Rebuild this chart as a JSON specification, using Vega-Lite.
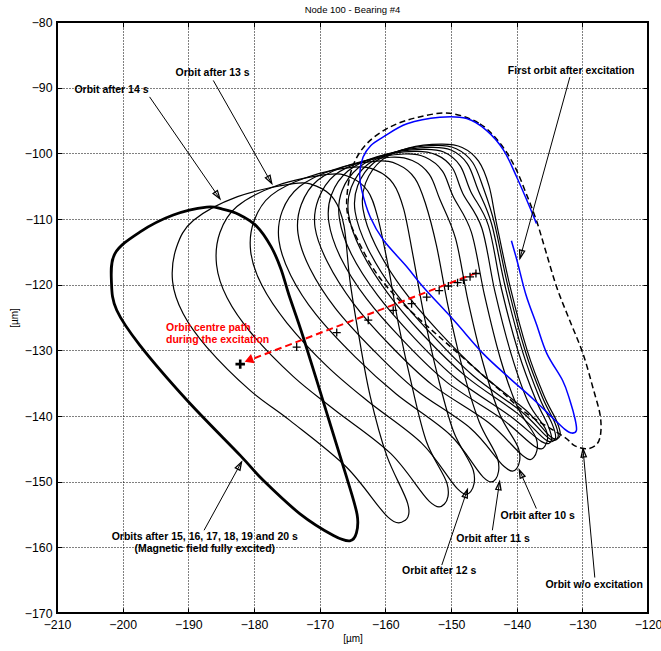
{
  "$schema": "https://vega.github.io/schema/vega-lite/v6.json",
  "width": 591,
  "height": 591,
  "autosize": {"type": "none"},
  "padding": {"left": 57, "top": 22, "right": 13, "bottom": 38},
  "title": {"text": "Node 100 - Bearing #4", "font": "Liberation Sans", "fontSize": 9.5, "fontWeight": "normal", "color": "#000", "anchor": "middle", "baseline": "bottom", "offset": -8},
  "config": {
    "font": "Liberation Sans",
    "view": {"stroke": "#000", "strokeWidth": 2},
    "axis": {"domain": false, "tickColor": "#000", "tickWidth": 1, "tickSize": -5, "labelPadding": 10, "labelFont": "Liberation Sans", "labelFontSize": 12.3, "labelColor": "#000", "labelFlush": false, "labelOverlap": false, "gridColor": "#000", "gridDash": [1, 2], "gridWidth": 1, "gridOpacity": 1, "titleFont": "Liberation Sans", "titleFontSize": 10, "titleFontWeight": "normal", "titleColor": "#000"}
  },
  "datasets": {
    "orbits": [
      {"t":4,"i":1,"x":-151.5,"y":-98.6},{"t":4,"i":2,"x":-148.3,"y":-99.1},{"t":4,"i":3,"x":-145.8,"y":-101.2},{"t":4,"i":4,"x":-144.2,"y":-105.0},{"t":4,"i":5,"x":-143.1,"y":-110.5},{"t":4,"i":6,"x":-141.0,"y":-120.3},{"t":4,"i":7,"x":-138.4,"y":-130.0},{"t":4,"i":8,"x":-135.8,"y":-137.0},{"t":4,"i":9,"x":-133.9,"y":-140.8},{"t":4,"i":10,"x":-133.4,"y":-143.0},{"t":4,"i":11,"x":-134.8,"y":-143.2},{"t":4,"i":12,"x":-138.5,"y":-139.2},{"t":4,"i":13,"x":-145.5,"y":-133.5},{"t":4,"i":14,"x":-152.0,"y":-127.0},{"t":4,"i":15,"x":-157.5,"y":-120.5},{"t":4,"i":16,"x":-161.5,"y":-114.0},{"t":4,"i":17,"x":-163.4,"y":-108.5},{"t":4,"i":18,"x":-163.0,"y":-104.5},{"t":4,"i":19,"x":-160.5,"y":-101.0},{"t":4,"i":20,"x":-156.5,"y":-99.2},
      {"t":5,"i":1,"x":-152.4,"y":-98.8},{"t":5,"i":2,"x":-149.2,"y":-99.3},{"t":5,"i":3,"x":-146.7,"y":-101.4},{"t":5,"i":4,"x":-145.1,"y":-105.2},{"t":5,"i":5,"x":-143.4,"y":-110.6},{"t":5,"i":6,"x":-141.3,"y":-120.4},{"t":5,"i":7,"x":-138.7,"y":-130.1},{"t":5,"i":8,"x":-136.1,"y":-137.1},{"t":5,"i":9,"x":-134.2,"y":-141.0},{"t":5,"i":10,"x":-133.7,"y":-143.2},{"t":5,"i":11,"x":-135.1,"y":-143.4},{"t":5,"i":12,"x":-139.2,"y":-139.4},{"t":5,"i":13,"x":-146.7,"y":-133.8},{"t":5,"i":14,"x":-153.1,"y":-127.4},{"t":5,"i":15,"x":-158.7,"y":-120.9},{"t":5,"i":16,"x":-162.7,"y":-114.4},{"t":5,"i":17,"x":-164.6,"y":-108.9},{"t":5,"i":18,"x":-164.2,"y":-104.9},{"t":5,"i":19,"x":-161.7,"y":-101.4},{"t":5,"i":20,"x":-157.5,"y":-99.5},
      {"t":6,"i":1,"x":-153.2,"y":-99.1},{"t":6,"i":2,"x":-150.0,"y":-99.5},{"t":6,"i":3,"x":-147.5,"y":-101.6},{"t":6,"i":4,"x":-145.9,"y":-105.5},{"t":6,"i":5,"x":-143.8,"y":-110.8},{"t":6,"i":6,"x":-141.7,"y":-120.5},{"t":6,"i":7,"x":-139.1,"y":-130.2},{"t":6,"i":8,"x":-136.5,"y":-137.3},{"t":6,"i":9,"x":-134.6,"y":-141.2},{"t":6,"i":10,"x":-134.1,"y":-143.4},{"t":6,"i":11,"x":-135.6,"y":-143.6},{"t":6,"i":12,"x":-139.9,"y":-139.6},{"t":6,"i":13,"x":-147.7,"y":-134.0},{"t":6,"i":14,"x":-154.2,"y":-127.7},{"t":6,"i":15,"x":-159.7,"y":-121.2},{"t":6,"i":16,"x":-163.7,"y":-114.8},{"t":6,"i":17,"x":-165.6,"y":-109.3},{"t":6,"i":18,"x":-165.2,"y":-105.2},{"t":6,"i":19,"x":-162.7,"y":-101.7},{"t":6,"i":20,"x":-158.5,"y":-99.8},
      {"t":7,"i":1,"x":-154.3,"y":-99.4},{"t":7,"i":2,"x":-151.1,"y":-99.8},{"t":7,"i":3,"x":-148.6,"y":-101.9},{"t":7,"i":4,"x":-147.0,"y":-105.8},{"t":7,"i":5,"x":-144.3,"y":-111.0},{"t":7,"i":6,"x":-142.3,"y":-120.7},{"t":7,"i":7,"x":-139.7,"y":-130.4},{"t":7,"i":8,"x":-137.1,"y":-137.5},{"t":7,"i":9,"x":-135.2,"y":-141.5},{"t":7,"i":10,"x":-134.7,"y":-143.7},{"t":7,"i":11,"x":-136.2,"y":-143.9},{"t":7,"i":12,"x":-141.0,"y":-140.0},{"t":7,"i":13,"x":-149.1,"y":-134.4},{"t":7,"i":14,"x":-155.6,"y":-128.1},{"t":7,"i":15,"x":-161.2,"y":-121.6},{"t":7,"i":16,"x":-165.2,"y":-115.3},{"t":7,"i":17,"x":-167.0,"y":-109.9},{"t":7,"i":18,"x":-166.6,"y":-105.7},{"t":7,"i":19,"x":-164.1,"y":-102.2},{"t":7,"i":20,"x":-159.8,"y":-100.1},
      {"t":8,"i":1,"x":-155.6,"y":-99.7},{"t":8,"i":2,"x":-152.3,"y":-100.2},{"t":8,"i":3,"x":-149.8,"y":-102.2},{"t":8,"i":4,"x":-148.2,"y":-106.1},{"t":8,"i":5,"x":-145.3,"y":-111.4},{"t":8,"i":6,"x":-143.3,"y":-121.1},{"t":8,"i":7,"x":-140.8,"y":-130.7},{"t":8,"i":8,"x":-138.2,"y":-138.0},{"t":8,"i":9,"x":-135.5,"y":-142.2},{"t":8,"i":10,"x":-135.7,"y":-144.6},{"t":8,"i":11,"x":-137.3,"y":-144.6},{"t":8,"i":12,"x":-142.3,"y":-140.4},{"t":8,"i":13,"x":-150.7,"y":-134.8},{"t":8,"i":14,"x":-157.2,"y":-128.6},{"t":8,"i":15,"x":-162.9,"y":-122.1},{"t":8,"i":16,"x":-166.8,"y":-115.9},{"t":8,"i":17,"x":-168.6,"y":-110.5},{"t":8,"i":18,"x":-168.2,"y":-106.3},{"t":8,"i":19,"x":-165.7,"y":-102.7},{"t":8,"i":20,"x":-161.2,"y":-100.5},
      {"t":9,"i":1,"x":-157.1,"y":-100.1},{"t":9,"i":2,"x":-153.9,"y":-100.6},{"t":9,"i":3,"x":-151.3,"y":-102.7},{"t":9,"i":4,"x":-149.7,"y":-106.5},{"t":9,"i":5,"x":-146.9,"y":-112.0},{"t":9,"i":6,"x":-144.9,"y":-121.6},{"t":9,"i":7,"x":-142.5,"y":-131.2},{"t":9,"i":8,"x":-139.9,"y":-138.6},{"t":9,"i":9,"x":-137.0,"y":-143.5},{"t":9,"i":10,"x":-137.4,"y":-146.3},{"t":9,"i":11,"x":-139.1,"y":-146.0},{"t":9,"i":12,"x":-144.3,"y":-141.0},{"t":9,"i":13,"x":-152.8,"y":-135.3},{"t":9,"i":14,"x":-159.2,"y":-129.3},{"t":9,"i":15,"x":-164.9,"y":-122.8},{"t":9,"i":16,"x":-168.8,"y":-116.6},{"t":9,"i":17,"x":-170.7,"y":-111.3},{"t":9,"i":18,"x":-170.2,"y":-107.0},{"t":9,"i":19,"x":-167.7,"y":-103.3},{"t":9,"i":20,"x":-163.0,"y":-101.1},
      {"t":10,"i":1,"x":-159.2,"y":-100.6},{"t":10,"i":2,"x":-155.9,"y":-101.1},{"t":10,"i":3,"x":-153.3,"y":-103.2},{"t":10,"i":4,"x":-151.7,"y":-107.0},{"t":10,"i":5,"x":-149.3,"y":-113.0},{"t":10,"i":6,"x":-147.4,"y":-122.5},{"t":10,"i":7,"x":-145.1,"y":-132.0},{"t":10,"i":8,"x":-142.6,"y":-139.7},{"t":10,"i":9,"x":-139.7,"y":-145.0},{"t":10,"i":10,"x":-140.0,"y":-148.0},{"t":10,"i":11,"x":-141.9,"y":-147.7},{"t":10,"i":12,"x":-147.0,"y":-141.9},{"t":10,"i":13,"x":-155.4,"y":-136.0},{"t":10,"i":14,"x":-161.7,"y":-130.1},{"t":10,"i":15,"x":-167.6,"y":-123.6},{"t":10,"i":16,"x":-171.5,"y":-117.5},{"t":10,"i":17,"x":-173.3,"y":-112.2},{"t":10,"i":18,"x":-172.8,"y":-107.8},{"t":10,"i":19,"x":-170.3,"y":-104.1},{"t":10,"i":20,"x":-165.3,"y":-101.7},
      {"t":11,"i":1,"x":-161.4,"y":-101.2},{"t":11,"i":2,"x":-158.1,"y":-101.7},{"t":11,"i":3,"x":-155.5,"y":-103.8},{"t":11,"i":4,"x":-153.9,"y":-107.6},{"t":11,"i":5,"x":-152.2,"y":-114.1},{"t":11,"i":6,"x":-150.4,"y":-123.5},{"t":11,"i":7,"x":-148.2,"y":-132.9},{"t":11,"i":8,"x":-145.7,"y":-140.9},{"t":11,"i":9,"x":-142.9,"y":-146.5},{"t":11,"i":10,"x":-143.2,"y":-149.6},{"t":11,"i":11,"x":-145.1,"y":-149.3},{"t":11,"i":12,"x":-150.1,"y":-142.9},{"t":11,"i":13,"x":-158.3,"y":-136.7},{"t":11,"i":14,"x":-164.6,"y":-131.0},{"t":11,"i":15,"x":-170.6,"y":-124.5},{"t":11,"i":16,"x":-174.4,"y":-118.6},{"t":11,"i":17,"x":-176.2,"y":-113.3},{"t":11,"i":18,"x":-175.7,"y":-108.8},{"t":11,"i":19,"x":-173.1,"y":-105.1},{"t":11,"i":20,"x":-167.9,"y":-102.5},
      {"t":12,"i":1,"x":-164.8,"y":-102.1},{"t":12,"i":2,"x":-161.4,"y":-102.6},{"t":12,"i":3,"x":-158.8,"y":-104.6},{"t":12,"i":4,"x":-157.2,"y":-108.5},{"t":12,"i":5,"x":-155.8,"y":-115.5},{"t":12,"i":6,"x":-154.1,"y":-124.7},{"t":12,"i":7,"x":-152.0,"y":-134.0},{"t":12,"i":8,"x":-149.6,"y":-142.4},{"t":12,"i":9,"x":-146.6,"y":-148.3},{"t":12,"i":10,"x":-147.0,"y":-151.5},{"t":12,"i":11,"x":-149.0,"y":-151.1},{"t":12,"i":12,"x":-154.4,"y":-144.2},{"t":12,"i":13,"x":-162.6,"y":-137.8},{"t":12,"i":14,"x":-168.9,"y":-132.4},{"t":12,"i":15,"x":-175.0,"y":-125.8},{"t":12,"i":16,"x":-178.8,"y":-120.1},{"t":12,"i":17,"x":-180.5,"y":-115.0},{"t":12,"i":18,"x":-180.0,"y":-110.3},{"t":12,"i":19,"x":-177.4,"y":-106.4},{"t":12,"i":20,"x":-171.8,"y":-103.6},
      {"t":13,"i":1,"x":-168.8,"y":-103.2},{"t":13,"i":2,"x":-165.4,"y":-103.6},{"t":13,"i":3,"x":-162.7,"y":-105.7},{"t":13,"i":4,"x":-161.2,"y":-109.6},{"t":13,"i":5,"x":-159.6,"y":-117.0},{"t":13,"i":6,"x":-158.0,"y":-126.0},{"t":13,"i":7,"x":-156.0,"y":-135.2},{"t":13,"i":8,"x":-153.7,"y":-144.0},{"t":13,"i":9,"x":-150.6,"y":-150.3},{"t":13,"i":10,"x":-151.0,"y":-153.4},{"t":13,"i":11,"x":-153.3,"y":-153.0},{"t":13,"i":12,"x":-159.2,"y":-145.7},{"t":13,"i":13,"x":-167.8,"y":-139.0},{"t":13,"i":14,"x":-174.0,"y":-134.0},{"t":13,"i":15,"x":-180.4,"y":-127.4},{"t":13,"i":16,"x":-184.1,"y":-122.0},{"t":13,"i":17,"x":-185.7,"y":-117.0},{"t":13,"i":18,"x":-185.2,"y":-112.1},{"t":13,"i":19,"x":-182.6,"y":-108.1},{"t":13,"i":20,"x":-176.5,"y":-104.9},
      {"t":14,"i":1,"x":-174.0,"y":-104.6},{"t":14,"i":2,"x":-170.5,"y":-105.0},{"t":14,"i":3,"x":-167.8,"y":-107.0},{"t":14,"i":4,"x":-166.3,"y":-111.0},{"t":14,"i":5,"x":-165.4,"y":-119.3},{"t":14,"i":6,"x":-164.0,"y":-128.0},{"t":14,"i":7,"x":-162.3,"y":-137.0},{"t":14,"i":8,"x":-159.8,"y":-146.0},{"t":14,"i":9,"x":-156.6,"y":-153.3},{"t":14,"i":10,"x":-157.0,"y":-155.9},{"t":14,"i":11,"x":-159.6,"y":-155.4},{"t":14,"i":12,"x":-165.9,"y":-147.8},{"t":14,"i":13,"x":-174.5,"y":-140.7},{"t":14,"i":14,"x":-180.6,"y":-136.1},{"t":14,"i":15,"x":-187.2,"y":-129.5},{"t":14,"i":16,"x":-190.8,"y":-124.4},{"t":14,"i":17,"x":-192.4,"y":-119.5},{"t":14,"i":18,"x":-191.8,"y":-114.3},{"t":14,"i":19,"x":-189.2,"y":-110.2},{"t":14,"i":20,"x":-182.5,"y":-106.6}
    ],
    "excited": [
      {"i":1,"x":-187.2,"y":-108.2},{"i":2,"x":-184.8,"y":-108.5},{"i":3,"x":-182.3,"y":-109.3},{"i":4,"x":-179.6,"y":-111.1},{"i":5,"x":-177.4,"y":-114.2},{"i":6,"x":-175.9,"y":-117.6},{"i":7,"x":-174.7,"y":-121.5},{"i":8,"x":-172.5,"y":-128.0},{"i":9,"x":-168.9,"y":-139.6},{"i":10,"x":-165.9,"y":-149.3},{"i":11,"x":-164.3,"y":-155.0},{"i":12,"x":-164.4,"y":-157.8},{"i":13,"x":-165.4,"y":-159.0},{"i":14,"x":-167.9,"y":-158.2},{"i":15,"x":-173.0,"y":-154.9},{"i":16,"x":-178.6,"y":-149.8},{"i":17,"x":-182.1,"y":-146.0},{"i":18,"x":-190.2,"y":-137.6},{"i":19,"x":-197.4,"y":-129.2},{"i":20,"x":-200.9,"y":-123.9},{"i":21,"x":-201.7,"y":-119.8},{"i":22,"x":-201.2,"y":-115.3},{"i":23,"x":-197.4,"y":-112.0},{"i":24,"x":-192.3,"y":-109.4}
    ],
    "reference": [
      {"i":1,"x":-150.2,"y":-93.9},{"i":2,"x":-145.6,"y":-95.5},{"i":3,"x":-142.5,"y":-98.5},{"i":4,"x":-140.3,"y":-102.0},{"i":5,"x":-138.6,"y":-106.0},{"i":6,"x":-137.0,"y":-110.2},{"i":7,"x":-135.6,"y":-114.8},{"i":8,"x":-133.9,"y":-120.4},{"i":9,"x":-131.9,"y":-125.5},{"i":10,"x":-129.9,"y":-130.5},{"i":11,"x":-128.3,"y":-136.0},{"i":12,"x":-127.3,"y":-139.8},{"i":13,"x":-127.2,"y":-142.6},{"i":14,"x":-127.8,"y":-144.3},{"i":15,"x":-129.3,"y":-145.0},{"i":16,"x":-131.2,"y":-144.5},{"i":17,"x":-132.9,"y":-143.1},{"i":18,"x":-138.5,"y":-139.6},{"i":19,"x":-142.5,"y":-136.1},{"i":20,"x":-146.6,"y":-132.5},{"i":21,"x":-151.7,"y":-128.0},{"i":22,"x":-155.2,"y":-124.9},{"i":23,"x":-158.8,"y":-121.4},{"i":24,"x":-161.8,"y":-117.6},{"i":25,"x":-164.3,"y":-113.0},{"i":26,"x":-165.7,"y":-109.5},{"i":27,"x":-165.8,"y":-106.0},{"i":28,"x":-164.9,"y":-101.8},{"i":29,"x":-162.8,"y":-98.5},{"i":30,"x":-159.3,"y":-96.0},{"i":31,"x":-155.0,"y":-94.5}
    ],
    "first": [
      {"i":1,"x":-140.8,"y":-113.3},{"i":2,"x":-139.9,"y":-116.5},{"i":3,"x":-138.6,"y":-121.5},{"i":4,"x":-137.0,"y":-126.0},{"i":5,"x":-135.4,"y":-130.5},{"i":6,"x":-133.0,"y":-134.6},{"i":7,"x":-131.9,"y":-137.6},{"i":8,"x":-131.1,"y":-140.5},{"i":9,"x":-130.9,"y":-142.2},{"i":10,"x":-131.6,"y":-142.6},{"i":11,"x":-132.7,"y":-142.0},{"i":12,"x":-134.5,"y":-140.3},{"i":13,"x":-137.5,"y":-137.4},{"i":14,"x":-141.0,"y":-134.3},{"i":15,"x":-145.1,"y":-130.5},{"i":16,"x":-149.5,"y":-125.5},{"i":17,"x":-154.2,"y":-120.4},{"i":18,"x":-156.7,"y":-117.3},{"i":19,"x":-160.3,"y":-113.2},{"i":20,"x":-162.3,"y":-109.7},{"i":21,"x":-163.6,"y":-105.6},{"i":22,"x":-163.9,"y":-103.1},{"i":23,"x":-163.4,"y":-100.6},{"i":24,"x":-162.2,"y":-98.8},{"i":25,"x":-160.3,"y":-97.5},{"i":26,"x":-156.7,"y":-95.5},{"i":27,"x":-151.7,"y":-94.5},{"i":28,"x":-147.6,"y":-94.7},{"i":29,"x":-144.6,"y":-96.5},{"i":30,"x":-142.0,"y":-99.5},{"i":31,"x":-140.0,"y":-103.6},{"i":32,"x":-138.0,"y":-108.2},{"i":33,"x":-137.0,"y":-110.7}
    ],
    "centres": [
      {"x":-146.2,"y":-118.3},{"x":-147.1,"y":-118.8},{"x":-148.1,"y":-119.3},{"x":-149.0,"y":-119.7},{"x":-150.4,"y":-120.2},{"x":-151.8,"y":-120.9},{"x":-153.7,"y":-121.9},{"x":-156.0,"y":-122.9},{"x":-158.8,"y":-123.9},{"x":-162.6,"y":-125.4},{"x":-167.4,"y":-127.3},{"x":-173.5,"y":-129.5}
    ],
    "finalCentre": [{"x":-182.1,"y":-132.1}],
    "centrePath": [{"i":1,"x":-146.1,"y":-118.2},{"i":2,"x":-180.2,"y":-131.3}],
    "centrePathHead": [{"x":-180.8,"y":-131.5}],
    "arrows": [
      {"a":1,"x":-195.9,"y":-91.4,"x2":-185.2,"y2":-106.9},
      {"a":2,"x":-186.2,"y":-88.9,"x2":-177.3,"y2":-104.6},
      {"a":3,"x":-131.9,"y":-88.4,"x2":-139.5,"y2":-116.0},
      {"a":4,"x":-187.6,"y":-157.4,"x2":-181.9,"y2":-147.0},
      {"a":5,"x":-151.4,"y":-162.7,"x2":-147.5,"y2":-151.2},
      {"a":6,"x":-143.7,"y":-157.4,"x2":-142.6,"y2":-150.0},
      {"a":7,"x":-137.0,"y":-154.1,"x2":-139.6,"y2":-148.2},
      {"a":8,"x":-128.1,"y":-164.6,"x2":-129.9,"y2":-145.0}
    ],
    "heads": [
      {"a":1,"i":1,"x":-186.23,"y":-106.11},{"a":1,"i":2,"x":-185.2,"y":-106.9},{"a":1,"i":3,"x":-185.57,"y":-105.65},
      {"a":2,"i":1,"x":-178.26,"y":-103.72},{"a":2,"i":2,"x":-177.3,"y":-104.6},{"a":2,"i":3,"x":-177.56,"y":-103.33},
      {"a":3,"i":1,"x":-139.56,"y":-114.7},{"a":3,"i":2,"x":-139.5,"y":-116.0},{"a":3,"i":3,"x":-138.79,"y":-114.91},
      {"a":4,"i":1,"x":-182.14,"y":-148.28},{"a":4,"i":2,"x":-181.9,"y":-147.0},{"a":4,"i":3,"x":-182.85,"y":-147.89},
      {"a":5,"i":1,"x":-147.52,"y":-152.5},{"a":5,"i":2,"x":-147.5,"y":-151.2},{"a":5,"i":3,"x":-148.28,"y":-152.24},
      {"a":6,"i":1,"x":-142.38,"y":-151.28},{"a":6,"i":2,"x":-142.6,"y":-150.0},{"a":6,"i":3,"x":-143.18,"y":-151.16},
      {"a":7,"i":1,"x":-138.73,"y":-149.17},{"a":7,"i":2,"x":-139.6,"y":-148.2},{"a":7,"i":3,"x":-139.47,"y":-149.49},
      {"a":8,"i":1,"x":-129.39,"y":-146.19},{"a":8,"i":2,"x":-129.9,"y":-145.0},{"a":8,"i":3,"x":-130.19,"y":-146.27}
    ],
    "labels": [
      {"x":-201.7,"y":-90.4,"text":"Orbit after 14 s"},
      {"x":-186.3,"y":-87.8,"text":"Orbit after 13 s"},
      {"x":-131.7,"y":-87.4,"text":"First orbit after excitation"},
      {"x":-187.5,"y":-158.4,"text":"Orbits after 15, 16, 17, 18, 19 and 20 s"},
      {"x":-187.5,"y":-160.3,"text":"(Magnetic field fully excited)"},
      {"x":-151.8,"y":-163.6,"text":"Orbit after 12 s"},
      {"x":-143.6,"y":-158.7,"text":"Orbit after 11 s"},
      {"x":-136.8,"y":-155.2,"text":"Orbit after 10 s"},
      {"x":-128.2,"y":-165.7,"text":"Orbit w/o excitation"}
    ],
    "pathLabels": [
      {"x":-193.4,"y":-126.55,"text":"Orbit centre path"},
      {"x":-193.4,"y":-128.42,"text":"during the excitation"}
    ]
  },
  "encoding": {
    "x": {"field": "x", "type": "quantitative", "scale": {"domain": [-210, -120], "nice": false, "zero": false}, "axis": null},
    "y": {"field": "y", "type": "quantitative", "scale": {"domain": [-170, -80], "nice": false, "zero": false}, "axis": null}
  },
  "layer": [
    {
      "data": {"name": "orbits"},
      "mark": {"type": "line", "interpolate": "cardinal-closed", "color": "#000", "strokeWidth": 1.2},
      "encoding": {
        "x": {"field": "x", "type": "quantitative", "scale": {"domain": [-210, -120], "nice": false, "zero": false},
              "axis": {"orient": "bottom", "values": [-210, -200, -190, -180, -170, -160, -150, -140, -130, -120], "grid": true, "title": "[µm]", "titlePadding": 3}},
        "y": {"field": "y", "type": "quantitative", "scale": {"domain": [-170, -80], "nice": false, "zero": false},
              "axis": {"orient": "left", "values": [-170, -160, -150, -140, -130, -120, -110, -100, -90, -80], "grid": true, "title": "[µm]", "titlePadding": 5}},
        "detail": {"field": "t"},
        "order": {"field": "i", "type": "quantitative"}
      }
    },
    {
      "data": {"name": "excited"},
      "mark": {"type": "line", "interpolate": "cardinal-closed", "color": "#000", "strokeWidth": 2.8},
      "encoding": {
        "x": {"field": "x", "type": "quantitative", "scale": {"domain": [-210, -120], "nice": false, "zero": false},
              "axis": {"orient": "top", "values": [-210, -200, -190, -180, -170, -160, -150, -140, -130, -120], "grid": false, "labels": false, "title": null}},
        "y": {"field": "y", "type": "quantitative", "scale": {"domain": [-170, -80], "nice": false, "zero": false},
              "axis": {"orient": "right", "values": [-170, -160, -150, -140, -130, -120, -110, -100, -90, -80], "grid": false, "labels": false, "title": null}},
        "order": {"field": "i", "type": "quantitative"}
      }
    },
    {
      "data": {"name": "reference"},
      "mark": {"type": "line", "interpolate": "cardinal-closed", "color": "#000", "strokeWidth": 1.5, "strokeDash": [6, 3.5]},
      "encoding": {"order": {"field": "i", "type": "quantitative"}}
    },
    {
      "data": {"name": "first"},
      "mark": {"type": "line", "interpolate": "cardinal", "color": "#0000ff", "strokeWidth": 1.5},
      "encoding": {"order": {"field": "i", "type": "quantitative"}}
    },
    {
      "data": {"name": "centrePath"},
      "mark": {"type": "line", "color": "#ff0000", "strokeWidth": 2, "strokeDash": [7, 4]},
      "encoding": {"order": {"field": "i", "type": "quantitative"}}
    },
    {
      "data": {"name": "centrePathHead"},
      "mark": {"type": "point", "shape": "triangle-left", "angle": -21, "filled": true, "color": "#ff0000", "size": 100, "opacity": 1}
    },
    {
      "data": {"name": "centres"},
      "mark": {"type": "point", "shape": "M-1,0H1M0,-1V1", "filled": false, "stroke": "#000", "strokeWidth": 1.3, "size": 64, "opacity": 1}
    },
    {
      "data": {"name": "finalCentre"},
      "mark": {"type": "point", "shape": "M-1,0H1M0,-1V1", "filled": false, "stroke": "#000", "strokeWidth": 2.6, "size": 90, "opacity": 1}
    },
    {
      "data": {"name": "arrows"},
      "mark": {"type": "rule", "color": "#000", "strokeWidth": 1},
      "encoding": {
        "x2": {"field": "x2"},
        "y2": {"field": "y2"}
      }
    },
    {
      "data": {"name": "heads"},
      "mark": {"type": "line", "interpolate": "linear-closed", "color": "#000", "strokeWidth": 1.3},
      "encoding": {
        "detail": {"field": "a"},
        "order": {"field": "i", "type": "quantitative"}
      }
    },
    {
      "data": {"name": "labels"},
      "mark": {"type": "text", "font": "Liberation Sans", "fontSize": 10.5, "fontWeight": "bold", "color": "#000", "align": "center", "baseline": "middle"},
      "encoding": {"text": {"field": "text"}}
    },
    {
      "data": {"name": "pathLabels"},
      "mark": {"type": "text", "font": "Liberation Sans", "fontSize": 10.5, "fontWeight": "bold", "color": "#ff0000", "align": "left", "baseline": "middle"},
      "encoding": {"text": {"field": "text"}}
    }
  ],
  "resolve": {"axis": {"x": "independent", "y": "independent"}}
}
